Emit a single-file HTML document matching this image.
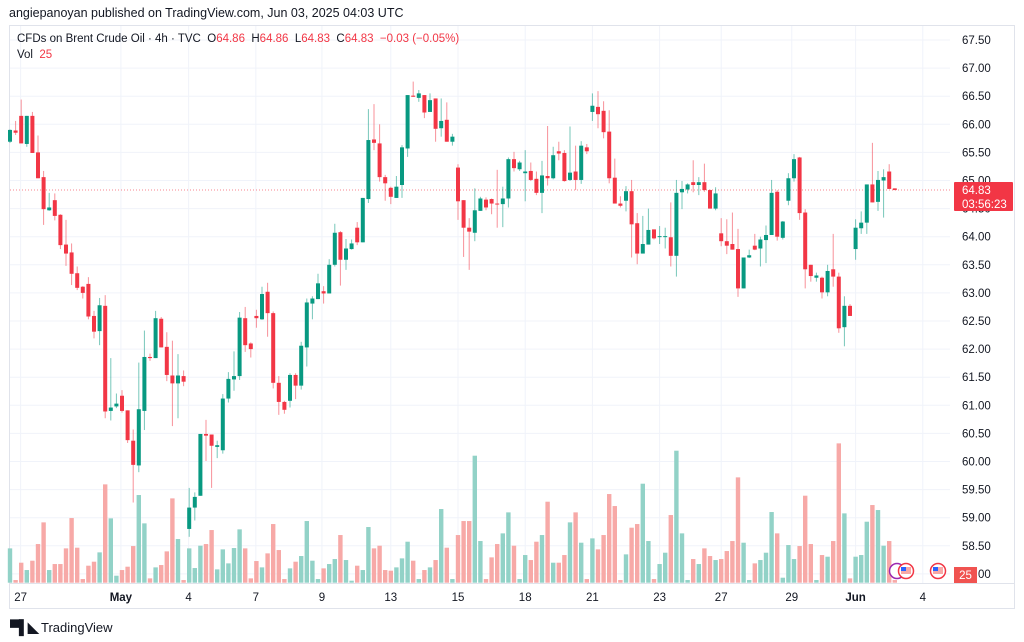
<!DOCTYPE html>
<html><head><meta charset="utf-8">
<style>
body{margin:0;background:#fff;width:1024px;height:642px;overflow:hidden;font-family:"Liberation Sans",sans-serif;}
#wrap{position:relative;width:1024px;height:642px;}
.t{position:absolute;white-space:nowrap;color:#131722;}
</style></head>
<body>
<div id="wrap">
<div class="t" style="left:9px;top:6px;font-size:12.5px;">angiepanoyan published on TradingView.com, Jun 03, 2025 04:03 UTC</div>
<div class="t" style="left:17px;top:33px;font-size:11.5px;">CFDs on Brent Crude Oil · 4h · TVC &nbsp;O<span style="color:#f23645">64.86</span> &nbsp;H<span style="color:#f23645">64.86</span> &nbsp;L<span style="color:#f23645">64.83</span> &nbsp;C<span style="color:#f23645">64.83</span> &nbsp;<span style="color:#f23645">−0.03 (−0.05%)</span></div>
<div class="t" style="left:17px;top:49px;font-size:11.5px;">Vol &nbsp;<span style="color:#f23645">25</span></div>
<svg id="chart" width="1024" height="642" style="position:absolute;left:0;top:0;z-index:-1"></svg>
<div class="t" style="left:10px;top:619px;font-size:13px;color:#131722;"><b style="font-size:14px;letter-spacing:-1px">▀▌◣</b> TradingView</div>
</div>
<script>
const opens=[65.69,65.89,66.15,65.65,66.15,65.50,65.06,64.47,64.65,64.39,63.86,63.72,63.35,63.11,63.16,62.59,62.32,62.77,60.90,60.98,61.17,60.91,60.37,59.93,60.90,61.86,61.84,62.54,62.04,61.53,61.39,61.52,58.80,59.18,59.39,60.49,60.48,60.26,60.20,61.12,61.46,61.52,
62.55,62.10,62.59,62.53,63.02,62.64,61.40,61.06,61.08,61.54,61.35,62.03,62.81,62.89,63.03,62.99,63.50,64.08,63.59,63.78,64.16,63.90,64.67,65.73,65.66,65.06,64.87,64.69,64.92,65.57,66.51,66.47,66.52,66.22,66.46,65.93,66.08,65.69,65.23,64.65,64.16,64.07,64.46,
64.66,64.67,64.59,64.58,64.68,65.38,65.20,65.13,65.17,65.03,64.78,65.08,65.04,65.52,65.49,65.01,65.16,65.01,65.59,66.22,66.31,66.24,65.87,65.05,64.59,64.64,64.81,64.24,63.70,63.86,64.13,64.00,64.00,63.99,63.66,64.79,64.84,64.97,64.92,64.97,64.83,64.50,
64.06,63.92,63.87,63.78,63.08,63.63,63.84,63.79,63.94,64.03,64.80,63.98,64.64,65.04,65.41,64.43,63.50,63.27,63.27,63.01,63.42,63.29,62.39,62.77,63.78,64.15,64.25,64.93,64.62,65.00,65.16,64.86];
const highs=[65.91,66.06,66.44,66.15,66.22,65.80,65.17,64.78,64.77,64.40,64.30,63.88,63.47,63.12,63.28,62.68,62.91,62.96,61.84,61.21,61.27,60.91,60.57,61.76,62.33,61.92,62.68,62.57,62.30,62.15,61.91,61.62,59.53,59.45,60.49,60.74,60.48,60.37,61.20,61.59,61.96,62.66,
62.75,62.12,62.70,63.11,63.18,62.67,61.52,61.08,61.57,61.57,62.13,62.90,62.94,63.34,63.12,63.60,64.23,64.10,63.96,63.95,64.26,64.69,66.27,66.36,66.00,65.10,64.89,65.08,65.63,66.52,66.76,66.61,66.52,66.55,66.46,66.46,66.39,65.83,65.29,64.65,64.33,64.86,64.71,
64.70,64.68,65.19,64.89,65.41,65.51,65.35,65.54,65.32,65.16,65.35,65.97,65.60,65.69,65.54,65.96,65.62,65.70,65.65,66.55,66.59,66.41,66.25,65.39,64.72,64.90,65.01,64.42,64.37,64.50,64.13,64.19,64.16,64.61,65.01,64.99,64.95,65.36,65.06,65.30,64.84,64.88,
64.33,64.31,64.43,64.14,63.63,63.77,64.05,64.00,64.20,65.01,64.83,64.28,65.13,65.47,65.42,64.49,63.50,63.36,63.29,63.50,64.05,63.36,62.94,62.80,64.31,64.45,64.93,65.67,65.17,65.20,65.29,64.86];
const lows=[65.67,65.81,65.66,65.60,65.49,65.04,64.21,64.46,64.29,63.78,63.48,63.14,63.05,62.90,62.53,62.19,62.07,60.77,60.73,60.95,60.87,60.33,59.27,59.81,60.56,61.79,61.84,62.03,61.43,60.63,60.77,61.34,58.66,58.95,59.39,60.01,59.53,60.06,60.14,61.05,61.26,61.45,
61.95,61.85,62.38,62.52,62.22,61.30,60.83,60.85,60.96,61.11,61.28,61.69,62.53,62.89,62.81,62.99,63.47,63.13,63.41,63.77,63.85,63.90,64.60,65.54,64.98,64.64,64.58,64.69,64.69,65.42,66.49,66.40,66.11,66.22,65.69,65.78,65.69,65.62,64.30,63.64,63.41,63.92,64.46,
64.47,64.40,64.16,64.17,64.52,65.16,65.17,64.63,64.99,64.74,64.42,64.91,65.02,65.36,64.98,64.99,64.83,64.94,65.47,66.06,65.93,65.75,64.95,64.59,64.52,64.45,63.63,63.51,63.70,63.86,63.95,63.87,63.79,63.47,63.29,64.49,64.77,64.79,64.74,64.80,64.50,64.47,
63.83,63.69,63.77,62.93,63.08,63.62,63.76,63.47,63.53,64.03,63.93,63.95,64.56,64.98,64.30,63.08,63.20,63.20,62.90,62.94,63.11,62.29,62.05,62.59,63.59,64.05,64.05,64.61,64.46,64.34,64.85,64.83];
const closes=[65.90,65.85,65.66,66.15,65.49,65.04,64.49,64.52,64.37,63.85,63.70,63.34,63.09,63.00,62.58,62.31,62.78,60.89,60.96,61.03,60.90,60.38,59.94,60.93,61.86,61.84,62.55,62.03,61.54,61.39,61.53,61.42,59.18,59.37,60.49,60.46,60.28,60.29,61.12,61.47,61.52,62.56,
62.07,62.00,62.55,62.98,62.64,61.40,61.06,60.92,61.54,61.35,62.06,62.83,62.90,63.17,62.99,63.50,64.07,63.59,63.79,63.88,63.90,64.69,65.72,65.67,65.06,64.95,64.71,64.89,65.59,66.52,66.49,66.55,66.21,66.43,65.92,66.06,65.69,65.78,64.63,64.16,64.09,64.47,64.68,
64.52,64.59,64.58,64.68,65.38,65.22,65.32,65.16,65.01,64.78,65.09,65.04,65.45,65.48,64.99,65.14,65.01,65.62,65.52,66.33,66.18,65.86,65.04,64.59,64.55,64.81,64.22,63.70,63.87,64.12,63.97,64.01,64.01,63.66,64.78,64.85,64.93,64.92,64.97,64.83,64.50,64.77,
63.92,63.84,63.77,63.08,63.63,63.67,63.77,63.95,64.03,64.78,64.00,64.27,65.04,65.38,64.42,63.42,63.30,63.31,63.01,63.39,63.29,62.37,62.77,62.59,64.16,64.25,64.93,64.61,65.01,65.06,64.85,64.83];
const volumes=[103,8,60,38,66,116,181,38,56,56,103,194,105,11,51,63,91,295,193,21,38,48,110,263,178,13,46,53,94,253,131,8,103,44,111,116,158,40,100,58,104,160,
103,13,65,46,88,176,98,11,43,63,80,185,66,11,43,56,71,143,68,6,51,38,167,103,111,38,36,46,73,123,66,11,38,46,68,221,105,11,143,185,185,381,125,
11,76,116,148,211,111,11,83,68,123,143,243,60,60,83,181,211,120,11,133,100,143,266,230,8,85,165,176,297,125,11,56,90,203,396,148,8,71,56,103,80,68,
71,95,125,316,120,8,58,68,90,212,148,15,113,71,110,261,116,8,83,78,125,418,208,13,78,83,183,233,218,111,125,8];
const priceTicks=["67.50","67.00","66.50","66.00","65.50","65.00","64.50","64.00","63.50","63.00","62.50","62.00","61.50","61.00","60.50","60.00","59.50","59.00","58.50","58.00"];
const dateLabels=["27","May","4","7","9","13","15","18","21","23","27","29","Jun","4"];
const dateIdx=[1.9,19.8,31.9,43.9,55.7,68,80,92,104,116,127,139.6,151,163];
const lastPrice=64.83;

const NS="http://www.w3.org/2000/svg";
const svg=document.getElementById('chart');
const yOf=p=>40+(67.5-p)*56.2;
const xOf=i=>10+i*5.6;
const volBase=582.7;
const vH=v=>v/3;
function mk(tag,attrs){const e=document.createElementNS(NS,tag);for(const k in attrs)e.setAttribute(k,attrs[k]);svg.appendChild(e);return e;}

// frame
const fr=mk('rect',{x:9.5,y:25.5,width:1005,height:583,fill:'none',stroke:'#e0e3eb'});


// horizontal grid + price labels
priceTicks.forEach(t=>{
  const y=yOf(parseFloat(t));
  const g=mk('line',{x1:10,x2:950,y1:y,y2:y,stroke:'#f0f3fa'});
  
  
  const tx=mk('text',{x:962,y:y+4,'font-size':11.5,fill:'#131722','font-family':'Liberation Sans, sans-serif'});
  tx.textContent=t;
  
  
});
// vertical grid + date labels
dateLabels.forEach((d,k)=>{
  const x=xOf(dateIdx[k]);
  const g=mk('line',{x1:x,x2:x,y1:26,y2:583,stroke:'#f0f3fa'});
  
  
  const bold=(d==='May'||d==='Jun');
  const tx=mk('text',{x:x,y:601,'font-size':11.5,fill:'#131722','text-anchor':'middle','font-weight':bold?'bold':'normal','font-family':'Liberation Sans, sans-serif'});
  tx.textContent=d;
  
  
});
const ax=mk('line',{x1:10,x2:1014,y1:583.5,y2:583.5,stroke:'#e0e3eb'});


// volume bars
volumes.forEach((v,i)=>{
  const up=closes[i]>=opens[i];
  const h=vH(v);
  const r=mk('rect',{x:xOf(i)-2.2,y:volBase-h,width:4.4,height:h,fill:up?'#92d2c7':'#f7a9a7'});
  
  
});
// last price line
const lp=mk('line',{x1:10,x2:950,y1:yOf(lastPrice),y2:yOf(lastPrice),stroke:'#f23645','stroke-dasharray':'1 2','stroke-opacity':0.6});


// candles
opens.forEach((o,i)=>{
  const c=closes[i],up=c>=o,col=up?'#089981':'#f23645',x=xOf(i);
  const w=mk('line',{x1:x,x2:x,y1:yOf(highs[i]),y2:yOf(lows[i]),stroke:col,'stroke-width':1,'stroke-opacity':0.55});
  
  
  const t=yOf(Math.max(o,c)),b=yOf(Math.min(o,c));
  const r=mk('rect',{x:x-2,y:t,width:4,height:Math.max(1,b-t),fill:col});
  
  
});
// last price badge
const ly=yOf(lastPrice);
const bx=mk('rect',{x:954,y:ly-8,width:59,height:29,fill:'#f23645',rx:1});


const bt=mk('text',{x:962,y:ly+4,'font-size':11.5,fill:'#fff','font-family':'Liberation Sans, sans-serif'});
bt.textContent=lastPrice.toFixed(2);


const bt2=mk('text',{x:962,y:ly+18,'font-size':11.5,fill:'#fff','font-family':'Liberation Sans, sans-serif'});
bt2.textContent='03:56:23';


// volume badge
const vb=mk('rect',{x:954,y:567,width:23,height:16,fill:'#f05350'});


const vt=mk('text',{x:965.5,y:579,'font-size':11.5,fill:'#fff','text-anchor':'middle','font-family':'Liberation Sans, sans-serif'});
vt.textContent='25';


// event icons
[[897,'#9c27b0'],[906,'#f23645'],[938,'#f23645']].forEach(e=>{
  const c=mk('circle',{cx:e[0],cy:571,r:7.5,fill:'#fff',stroke:e[1],'stroke-width':1.5});
  
  
  if(e[1]==='#f23645'){
    const f=mk('rect',{x:e[0]-5,y:567,width:10,height:7,fill:'#f7a9a7'});
    
    
    const f2=mk('rect',{x:e[0]-5,y:567,width:5,height:4,fill:'#2962ff'});
    
    
  }
});
</script>
</body></html>
